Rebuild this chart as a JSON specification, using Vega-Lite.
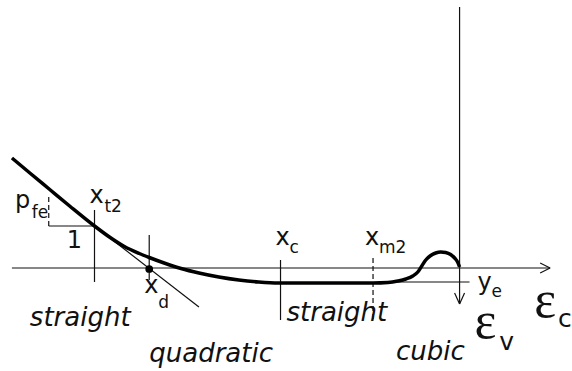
{
  "$schema": "https://vega.github.io/schema/vega-lite/v6.json",
  "width": 572,
  "height": 371,
  "padding": 0,
  "autosize": {"type": "fit", "contains": "padding"},
  "background": "white",
  "config": {"view": {"stroke": null}},
  "datasets": {
    "curve": [
      {"x": -450, "y": 110}, {"x": -432, "y": 95}, {"x": -412, "y": 78.5},
      {"x": -392, "y": 62}, {"x": -367, "y": 42}, {"x": -352, "y": 31},
      {"x": -337, "y": 21.5}, {"x": -322, "y": 14.5}, {"x": -312, "y": 10.5},
      {"x": -297, "y": 5}, {"x": -280, "y": -0.5}, {"x": -262, "y": -5},
      {"x": -242, "y": -9}, {"x": -222, "y": -12}, {"x": -202, "y": -14},
      {"x": -182, "y": -15}, {"x": -87, "y": -15}, {"x": -72, "y": -14.5},
      {"x": -62, "y": -13}, {"x": -54, "y": -11}, {"x": -47, "y": -8},
      {"x": -42, "y": -4}, {"x": -38, "y": 2}, {"x": -34, "y": 8},
      {"x": -29, "y": 12.5}, {"x": -24, "y": 15}, {"x": -19, "y": 16},
      {"x": -14, "y": 15.5}, {"x": -9, "y": 13.5}, {"x": -5, "y": 10},
      {"x": -2, "y": 6}, {"x": 0, "y": 1}
    ],
    "solidLines": [
      {"name": "eps_c axis", "x": -450, "y": 0, "x2": 91, "y2": 0},
      {"name": "eps_v axis", "x": 0, "y": 261, "x2": 0, "y2": -36},
      {"name": "arrow c upper", "x": 81, "y": 5, "x2": 91, "y2": 0},
      {"name": "arrow c lower", "x": 81, "y": -5, "x2": 91, "y2": 0},
      {"name": "arrow v left", "x": -5, "y": -25, "x2": 0, "y2": -36},
      {"name": "arrow v right", "x": 5, "y": -25, "x2": 0, "y2": -36},
      {"name": "tangent", "x": -367, "y": 42, "x2": -262, "y2": -39},
      {"name": "slope run", "x": -413, "y": 42, "x2": -367, "y2": 42},
      {"name": "x_t2", "x": -367, "y": 58, "x2": -367, "y2": -14},
      {"name": "x_d", "x": -312, "y": 33, "x2": -312, "y2": -12},
      {"name": "x_c", "x": -180, "y": 8, "x2": -180, "y2": -52},
      {"name": "y_e", "x": -70, "y": -14, "x2": 10, "y2": -14}
    ],
    "dashedLines": [
      {"name": "slope rise", "x": -413, "y": 71, "x2": -413, "y2": 42},
      {"name": "x_m2", "x": -87, "y": 10, "x2": -87, "y2": -54}
    ],
    "points": [{"name": "x_d", "x": -312, "y": -1}],
    "symbols": [
      {"t": "p", "x": -447, "y": 60},
      {"t": "x", "x": -372, "y": 65},
      {"t": "1", "x": -395, "y": 20},
      {"t": "x", "x": -317, "y": -25},
      {"t": "x", "x": -185, "y": 23},
      {"t": "x", "x": -95, "y": 23},
      {"t": "y", "x": 18, "y": -22}
    ],
    "subscripts": [
      {"t": "fe", "x": -430, "y": 50},
      {"t": "t2", "x": -357, "y": 56},
      {"t": "d", "x": -303, "y": -40},
      {"t": "c", "x": -171, "y": 15},
      {"t": "m2", "x": -81, "y": 15},
      {"t": "e", "x": 32, "y": -29}
    ],
    "words": [
      {"t": "straight", "x": -432, "y": -58},
      {"t": "straight", "x": -174, "y": -53},
      {"t": "quadratic", "x": -312, "y": -94},
      {"t": "cubic", "x": -64, "y": -92}
    ],
    "epsilons": [
      {"t": "ε", "x": 75, "y": -49},
      {"t": "ε", "x": 15, "y": -70}
    ],
    "epsSubs": [
      {"t": "c", "x": 99, "y": -59},
      {"t": "v", "x": 40, "y": -82}
    ]
  },
  "encoding": {
    "x": {"field": "x", "type": "quantitative", "axis": null,
          "scale": {"domain": [-462, 110], "nice": false, "zero": false}},
    "y": {"field": "y", "type": "quantitative", "axis": null,
          "scale": {"domain": [-103, 268], "nice": false, "zero": false}}
  },
  "layer": [
    {
      "data": {"name": "solidLines"},
      "mark": {"type": "rule", "color": "#111", "strokeWidth": 1.2},
      "encoding": {"x2": {"field": "x2"}, "y2": {"field": "y2"}}
    },
    {
      "data": {"name": "dashedLines"},
      "mark": {"type": "rule", "color": "#111", "strokeWidth": 1.2, "strokeDash": [5, 3]},
      "encoding": {"x2": {"field": "x2"}, "y2": {"field": "y2"}}
    },
    {
      "data": {"name": "curve"},
      "mark": {"type": "line", "color": "#000", "strokeWidth": 3.5, "interpolate": "monotone"}
    },
    {
      "data": {"name": "points"},
      "mark": {"type": "point", "filled": true, "color": "#000", "size": 60, "opacity": 1}
    },
    {
      "data": {"name": "symbols"},
      "mark": {"type": "text", "align": "left", "baseline": "alphabetic", "font": "DejaVu Sans", "fontSize": 24, "color": "#111"},
      "encoding": {"text": {"field": "t"}}
    },
    {
      "data": {"name": "subscripts"},
      "mark": {"type": "text", "align": "left", "baseline": "alphabetic", "font": "DejaVu Sans", "fontSize": 17, "color": "#111"},
      "encoding": {"text": {"field": "t"}}
    },
    {
      "data": {"name": "words"},
      "mark": {"type": "text", "align": "left", "baseline": "alphabetic", "font": "DejaVu Sans", "fontSize": 26, "fontStyle": "italic", "color": "#111"},
      "encoding": {"text": {"field": "t"}}
    },
    {
      "data": {"name": "epsilons"},
      "mark": {"type": "text", "align": "left", "baseline": "alphabetic", "font": "Liberation Serif", "fontSize": 52, "color": "#111"},
      "encoding": {"text": {"field": "t"}}
    },
    {
      "data": {"name": "epsSubs"},
      "mark": {"type": "text", "align": "left", "baseline": "alphabetic", "font": "DejaVu Sans", "fontSize": 25, "color": "#111"},
      "encoding": {"text": {"field": "t"}}
    }
  ]
}
